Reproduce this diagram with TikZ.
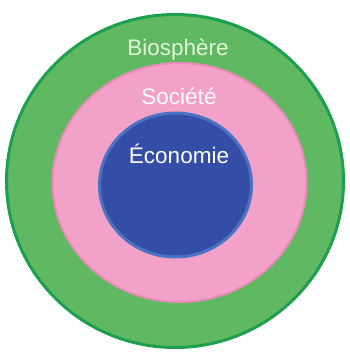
\documentclass[tikz,border=0pt]{standalone}
\usepackage{fontspec}
\setmainfont{Liberation Sans}
\begin{document}
\begin{tikzpicture}[x=1pt,y=-1pt,
  ring/.style={line width=#1},
  lbl/.style={font=\fontsize{22.5}{26}\selectfont, inner sep=0pt}]
\definecolor{bioGreen}{RGB}{96,184,98}
\definecolor{bioEdge}{RGB}{28,160,80}
\definecolor{socPink}{RGB}{242,162,200}
\definecolor{socEdge}{RGB}{236,138,185}
\definecolor{ecoBlue}{RGB}{52,78,168}
\definecolor{ecoEdge}{RGB}{75,115,195}
\definecolor{bioText}{RGB}{225,245,215}
\useasboundingbox (0,0) rectangle (350,356);
\fill[white] (0,0) rectangle (350,356);
% biosphere
\draw[fill=bioGreen, draw=bioEdge, ring=3pt] (175,181) ellipse [x radius=168.5, y radius=166.5];
% society
\draw[fill=socPink, draw=socEdge, ring=2pt] (179.5,182.5) ellipse [x radius=127, y radius=119.5];
% economy
\draw[fill=ecoBlue, draw=ecoEdge, ring=3pt] (175.5,185) ellipse [x radius=76, y radius=72];
\node[lbl, text=bioText] (bio) at (178,50) {Biosphère};
\node[lbl, text=white!96!pink] (soc) at (179,96) {Société};
\node[lbl, text=white] (eco) at (179,154) {Économie};
\end{tikzpicture}
\end{document}
